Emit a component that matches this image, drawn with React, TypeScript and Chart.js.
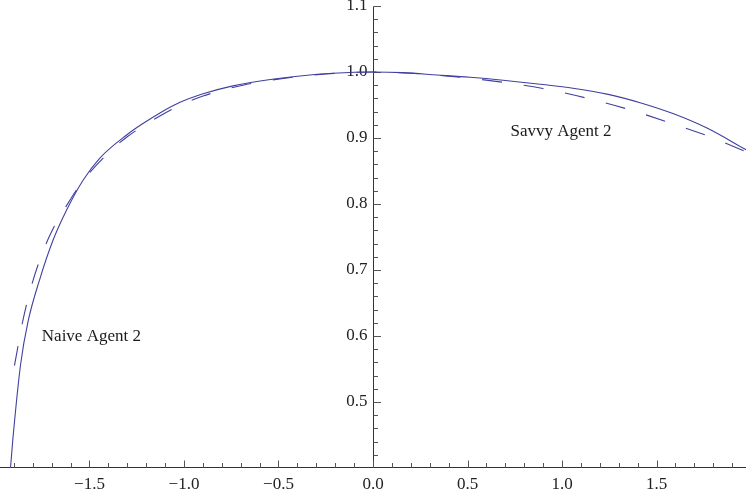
import React, { useEffect, useRef } from "react";
import { Chart, registerables } from "chart.js";

Chart.register(...registerables);

// Solid curve
const solidX = [-1.935, -1.918, -1.906, -1.864, -1.825, -1.762, -1.693, -1.619, -1.534, -1.444, -1.302, -1.217, -1.127, -1.021, -0.899, -0.741, -0.561, -0.386, -0.212, 0, 0.159, 0.339, 0.513, 0.688, 0.884, 1.058, 1.238, 1.413, 1.587, 1.767, 1.975];
const solidY = [0.35, 0.4, 0.442, 0.558, 0.622, 0.687, 0.745, 0.792, 0.836, 0.87, 0.905, 0.922, 0.938, 0.954, 0.967, 0.979, 0.988, 0.994, 0.998, 1.0, 0.999, 0.9955, 0.992, 0.9875, 0.9815, 0.9755, 0.9665, 0.9535, 0.937, 0.915, 0.882];

// Dashed curve
const dashedX = [-1.897, -1.852, -1.799, -1.714, -1.603, -1.54, -1.402, -1.302, -1.217, -1.111, -1.016, -0.899, -0.688, -0.455, -0.25, 0, 0.2, 0.444, 0.672, 0.899, 1.122, 1.344, 1.561, 1.772, 1.975];
const dashedY = [0.555, 0.624, 0.684, 0.75, 0.806, 0.833, 0.877, 0.9015, 0.918, 0.936, 0.95, 0.9636, 0.98, 0.991, 0.997, 1.0, 0.998, 0.9925, 0.985, 0.975, 0.961, 0.944, 0.924, 0.903, 0.879];

// Axis ticks
const xTickValues = [-1.5, -1.0, -0.5, 0.0, 0.5, 1.0, 1.5];
const xTickLabels = ["\u22121.5", "\u22121.0", "\u22120.5", "0.0", "0.5", "1.0", "1.5"];
const yTickValues = [0.5, 0.6, 0.7, 0.8, 0.9, 1.0, 1.1];
const yTickLabels = ["0.5", "0.6", "0.7", "0.8", "0.9", "1.0", "1.1"];

// Text labels on the plot
const noteTexts = ["Naive Agent 2", "Savvy Agent 2"];
const noteX = [-1.49, 0.995];
const noteY = [0.5924, 0.9023];

const X_MIN = -1.9735;
const X_MAX = 1.9735;
const Y_MIN = 0.4;
const Y_MAX = 1.1091;

const CURVE_COLOR = "rgb(64,64,160)";
const AXIS_COLOR = "#333333";
const FONT = '17px "Liberation Serif", "Times New Roman", serif';

const axesPlugin = {
  id: "mathAxes",
  beforeDatasetsDraw(chart: any) {
    const { ctx, chartArea } = chart;
    const xs = chart.scales.x;
    const ys = chart.scales.y;
    const x0 = Math.round(xs.getPixelForValue(0)) + 0.5;
    const y0 = Math.round(ys.getPixelForValue(Y_MIN)) - 0.5;
    ctx.save();
    ctx.strokeStyle = AXIS_COLOR;
    ctx.lineWidth = 1;
    ctx.beginPath();
    ctx.moveTo(chartArea.left, y0);
    ctx.lineTo(chartArea.right, y0);
    ctx.stroke();
    const yTop = Math.round(ys.getPixelForValue(1.1)) + 0.5;
    ctx.beginPath();
    ctx.moveTo(x0, y0);
    ctx.lineTo(x0, yTop);
    ctx.stroke();
    ctx.strokeStyle = "#555555";
    for (let i = -19; i <= 19; i++) {
      const px = Math.round(xs.getPixelForValue(i / 10)) + 0.5;
      const len = i % 5 === 0 ? 7 : 4.5;
      ctx.beginPath();
      ctx.moveTo(px, y0);
      ctx.lineTo(px, y0 - len);
      ctx.stroke();
    }
    for (let j = 21; j <= 55; j++) {
      const py = Math.round(ys.getPixelForValue(j * 0.02)) + 0.5;
      const len = j % 5 === 0 ? 7.5 : 4.5;
      ctx.beginPath();
      ctx.moveTo(x0, py);
      ctx.lineTo(x0 + len, py);
      ctx.stroke();
    }
    ctx.fillStyle = "#222222";
    ctx.font = FONT;
    ctx.textAlign = "center";
    ctx.textBaseline = "alphabetic";
    xTickValues.forEach((v, k) => {
      ctx.fillText(xTickLabels[k], xs.getPixelForValue(v), y0 + 21);
    });
    ctx.textAlign = "right";
    ctx.textBaseline = "middle";
    yTickValues.forEach((v, k) => {
      ctx.fillText(yTickLabels[k], x0 - 6, ys.getPixelForValue(v));
    });
    ctx.restore();
  },
  afterDatasetsDraw(chart: any) {
    const { ctx } = chart;
    const xs = chart.scales.x;
    const ys = chart.scales.y;
    ctx.save();
    ctx.fillStyle = "#1a1a1a";
    ctx.font = FONT;
    ctx.textAlign = "center";
    ctx.textBaseline = "alphabetic";
    noteTexts.forEach((t, k) => {
      ctx.fillText(t, xs.getPixelForValue(noteX[k]), ys.getPixelForValue(noteY[k]));
    });
    ctx.restore();
  },
};

export default function App() {
  const canvasRef = useRef<HTMLCanvasElement | null>(null);

  useEffect(() => {
    document.body.style.margin = "0";
    const canvas = canvasRef.current;
    if (!canvas) return;
    const chart = new Chart(canvas, {
      type: "scatter",
      data: {
        datasets: [
          {
            label: "solid",
            data: solidX.map((x, i) => ({ x, y: solidY[i] })),
            showLine: true,
            borderColor: CURVE_COLOR,
            borderWidth: 1.1,
            pointRadius: 0,
            cubicInterpolationMode: "monotone",
            fill: false,
          },
          {
            label: "dashed",
            data: dashedX.map((x, i) => ({ x, y: dashedY[i] })),
            showLine: true,
            borderColor: CURVE_COLOR,
            borderWidth: 1.1,
            borderDash: [20, 22],
            pointRadius: 0,
            cubicInterpolationMode: "monotone",
            fill: false,
          },
        ],
      },
      options: {
        animation: false,
        responsive: false,
        maintainAspectRatio: false,
        layout: { padding: { left: 0, right: 0, top: 0, bottom: 28 } },
        plugins: {
          legend: { display: false },
          tooltip: { enabled: false },
        },
        scales: {
          x: { type: "linear", min: X_MIN, max: X_MAX, display: false },
          y: { type: "linear", min: Y_MIN, max: Y_MAX, display: false },
        },
      },
      plugins: [axesPlugin],
    });
    return () => chart.destroy();
  }, []);

  return (
    <div style={{ width: 746, height: 496, position: "relative" }}>
      <canvas ref={canvasRef} width={746} height={496} style={{ width: 746, height: 496, display: "block" }} />
    </div>
  );
}
